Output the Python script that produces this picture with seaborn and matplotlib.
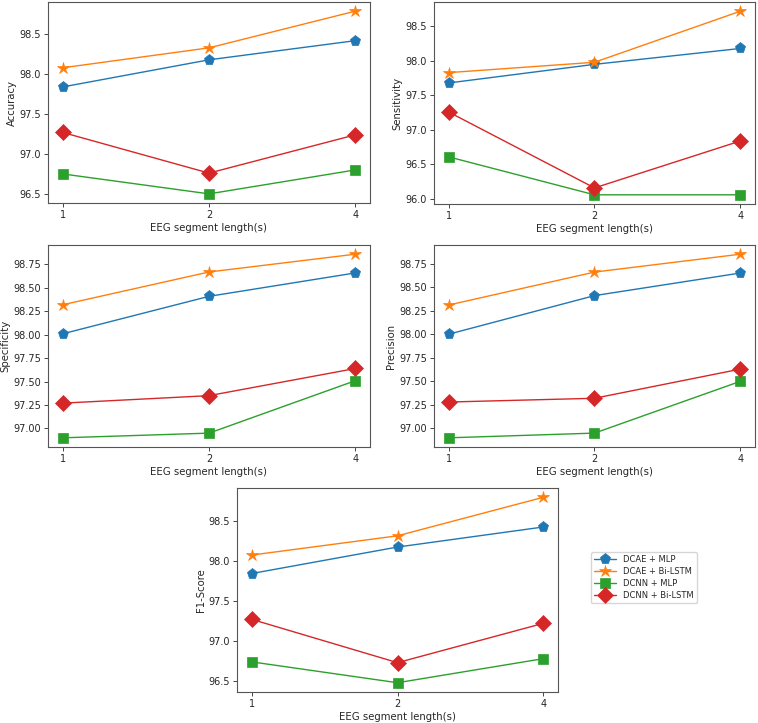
import pandas as pd
import matplotlib
matplotlib.use("Agg")
import matplotlib.pyplot as plt
import seaborn as sns

seg_len = ['1', '2', '4']
models = ['DCAE + MLP', 'DCAE + Bi-LSTM', 'DCNN + MLP', 'DCNN + Bi-LSTM']

accuracy = [[97.84, 98.18, 98.42], [98.08, 98.33, 98.79],
            [96.75, 96.50, 96.80], [97.27, 96.76, 97.24]]
sensitivity = [[97.68, 97.95, 98.18], [97.83, 97.98, 98.72],
               [96.61, 96.06, 96.06], [97.26, 96.16, 96.84]]
specificity = [[98.01, 98.41, 98.66], [98.32, 98.67, 98.86],
               [96.90, 96.95, 97.51], [97.27, 97.35, 97.64]]
precision = [[98.00, 98.41, 98.65], [98.31, 98.66, 98.85],
             [96.90, 96.95, 97.50], [97.28, 97.32, 97.63]]
f1_score = [[97.84, 98.17, 98.42], [98.07, 98.31, 98.79],
            [96.74, 96.48, 96.78], [97.27, 96.73, 97.22]]

metrics = {'Accuracy': accuracy, 'Sensitivity': sensitivity,
           'Specificity': specificity, 'Precision': precision,
           'F1-Score': f1_score}

colors = ['#1f77b4', '#ff7f0e', '#2ca02c', '#d62728']
markers = ['p', '*', 's', 'D']
msizes = [8, 9, 7.5, 8]

sns.set_style("ticks")
plt.rcParams['axes.edgecolor'] = '#555555'

fig = plt.figure(figsize=(7.58, 7.23), dpi=100)
W, H = 758, 723
boxes = [(48, 2, 370, 203), (434, 2, 755, 204),
         (48, 245, 370, 447), (434, 245, 755, 447),
         (237, 488, 558, 692)]

handles = []
for (name, data), (l, t, r, b) in zip(metrics.items(), boxes):
    ax = fig.add_axes([l / W, 1 - b / H, (r - l) / W, (b - t) / H])
    handles = []
    for i, m in enumerate(models):
        df = pd.DataFrame({'len': seg_len, 'val': data[i]})
        sns.lineplot(data=df, x='len', y='val', ax=ax, color=colors[i],
                     marker=markers[i], markersize=msizes[i], linewidth=1,
                     markeredgewidth=0.5, markeredgecolor=colors[i], label=m,
                     legend=False)
        handles.append(ax.lines[-1])
    ax.set_xlabel('EEG segment length(s)', fontsize=7.3, labelpad=2)
    ax.set_ylabel(name, fontsize=7.3, labelpad=2)
    ax.tick_params(labelsize=7, length=3, width=0.6, pad=2)
    for s in ax.spines.values():
        s.set_linewidth(0.8)

fig.legend(handles, models, loc='upper left',
           bbox_to_anchor=(591 / W, 1 - 552 / H), borderaxespad=0,
           fontsize=6, frameon=True, handlelength=2.6, borderpad=0.4,
           labelspacing=0.35)

fig.savefig('out.png', dpi=100)
